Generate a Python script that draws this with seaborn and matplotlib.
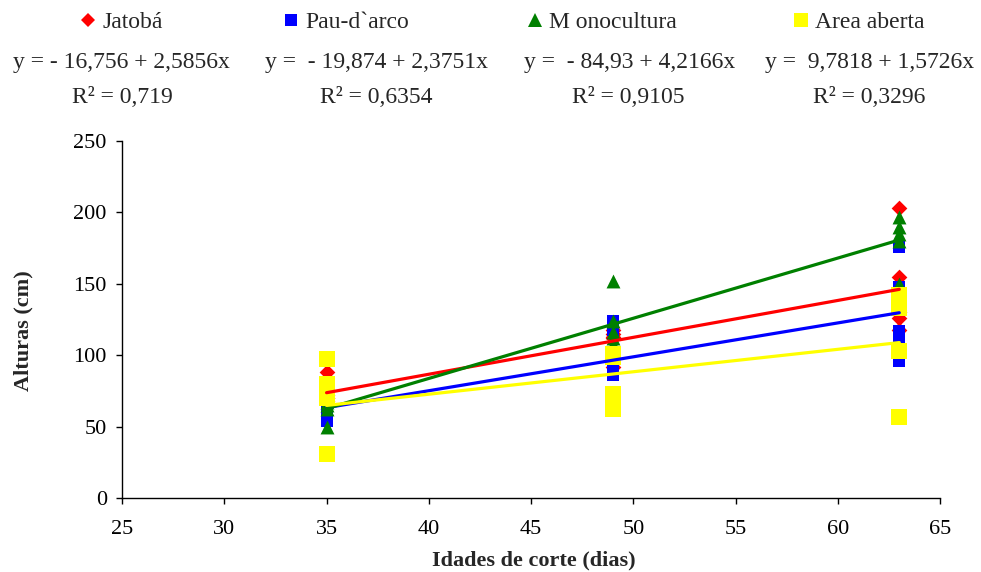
import numpy as np
import pandas as pd
import matplotlib.pyplot as plt
from matplotlib.lines import Line2D
import seaborn as sns

# Data (cutting age in days vs height in cm)
ages = [35] * 5 + [49] * 5 + [63] * 5
jatoba = [88, 70, 72, 68, 70, 115, 92, 118, 112, 113, 203, 155, 126, 130, 118]
pau_darco = [54, 64, 70, 62, 66, 124, 118, 90, 64, 86, 176, 117, 112, 96, 148]
monocultura = [62, 50, 65, 70, 67, 152, 124, 116, 108, 112, 197, 190, 185, 180, 150]
area_aberta = [97, 80, 75, 70, 31, 101, 99, 73, 67, 62, 138, 142, 133, 103, 57]

series_names = ["Jatobá", "Pau-d`arco", "M onocultura", "Area aberta"]
intercepts = [-16.756, -19.874, -84.93, 9.7818]
slopes = [2.5856, 2.3751, 4.2166, 1.5726]
eq_texts = ["y = - 16,756 + 2,5856x", "y =  - 19,874 + 2,3751x",
            "y =  - 84,93 + 4,2166x", "y =  9,7818 + 1,5726x"]
r2_texts = ["0,719", "0,6354", "0,9105", "0,3296"]

colors = ["#FF0000", "#0000FF", "#008000", "#FFFF00"]
markers = ["D", "s", "^", "s"]
msizes = [8, 9, 10, 11]

sns.set_style("white")
plt.rcParams["font.family"] = ["Liberation Serif", "DejaVu Serif"]

fig = plt.figure(figsize=(9.81, 5.72), dpi=100)
ax = fig.add_axes([0.1244, 0.1294, 0.834, 0.624])

all_y = [jatoba, pau_darco, monocultura, area_aberta]
for name, ys, c, m, ms in zip(series_names, all_y, colors, markers, msizes):
    df = pd.DataFrame({"idade": ages, "altura": ys})
    sns.scatterplot(data=df, x="idade", y="altura", ax=ax, color=c, marker=m,
                    s=ms ** 2, linewidth=0, zorder=3)

# trend lines from the regression equations shown above the chart
xfit = np.array([35, 63])
for a, b, c in zip(intercepts, slopes, colors):
    sns.lineplot(x=xfit, y=a + b * xfit, ax=ax, color=c, linewidth=2.3, zorder=4)

ax.set_xlim(25, 65)
ax.set_ylim(0, 250)
ax.set_xticks(range(25, 66, 5))
ax.set_yticks(range(0, 251, 50))
ax.tick_params(axis="both", labelsize=16, direction="out", length=4, width=1,
               bottom=True, left=True, colors="black")
ax.tick_params(axis="x", pad=12)
ax.tick_params(axis="y", pad=7)
for s in ["top", "right"]:
    ax.spines[s].set_visible(False)
for s in ["left", "bottom"]:
    ax.spines[s].set_color("black")
    ax.spines[s].set_linewidth(1)
ax.set_xlabel("Idades de corte (dias)", fontsize=16, fontweight="bold")
ax.set_ylabel("Alturas (cm)", fontsize=16, fontweight="bold")
ax.xaxis.set_label_coords(0.503, -0.146)
ax.yaxis.set_label_coords(-0.108, 0.47)

# legend entries and regression equations across the top
leg_x = [0.0836, 0.2905, 0.539, 0.810]
eq_x = [0.1239, 0.3843, 0.642, 0.886]
r2_x = [0.1244, 0.3833, 0.640, 0.886]
for i in range(4):
    h = Line2D([], [], linestyle="", marker=markers[i], color=colors[i],
               markersize=msizes[i] * 0.95, markeredgewidth=0)
    fig.legend([h], [series_names[i]], loc="center left",
               bbox_to_anchor=(leg_x[i], 0.9615), frameon=False, fontsize=17,
               handlelength=0.5, handletextpad=0.35, borderpad=0,
               borderaxespad=0)
    fig.text(eq_x[i], 0.890, eq_texts[i], ha="center", va="center", fontsize=17)
    fig.text(r2_x[i], 0.830, "R² = " + r2_texts[i], ha="center", va="center",
             fontsize=17)

fig.savefig("out.png", dpi=100)
